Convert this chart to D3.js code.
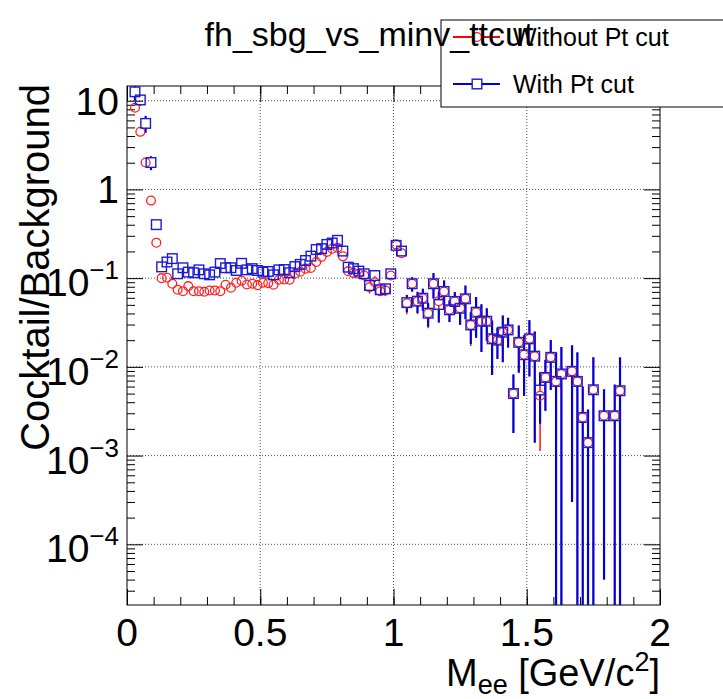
<!DOCTYPE html>
<html><head><meta charset="utf-8">
<script src="https://cdn.jsdelivr.net/npm/d3@7"></script>
<style>body{margin:0;background:#fff;} text{font-family:"Liberation Sans",Arial,sans-serif;}</style>
</head><body><svg id="c" width="723" height="699"></svg>
<script>
const mass = [0.03,0.05,0.07,0.09,0.11,0.13,0.15,0.17,0.19,0.21,0.23,0.25,0.27,0.29,0.31,0.33,0.35,0.37,0.39,0.41,0.43,0.45,0.47,0.49,0.51,0.53,0.55,0.57,0.59,0.61,0.63,0.65,0.67,0.69,0.71,0.73,0.75,0.77,0.79,0.81,0.83,0.85,0.87,0.89,0.91,0.93,0.95,0.97,0.99,1.01,1.03,1.05,1.07,1.09,1.11,1.13,1.15,1.17,1.19,1.21,1.23,1.25,1.27,1.29,1.31,1.33,1.35,1.37,1.39,1.41,1.43,1.45,1.47,1.49,1.51,1.53,1.55,1.57,1.59,1.61,1.63,1.67,1.69,1.71,1.73,1.75,1.79,1.83,1.85];
const withPt = [12.6,10.2,5.55,2.01,0.401,0.134,0.152,0.166,0.112,0.131,0.117,0.115,0.124,0.112,0.109,0.117,0.146,0.131,0.131,0.122,0.147,0.124,0.128,0.122,0.117,0.119,0.109,0.124,0.125,0.115,0.135,0.143,0.158,0.177,0.21,0.215,0.240,0.249,0.267,0.202,0.133,0.128,0.120,0.112,0.0826,0.107,0.074,0.0759,0.112,0.234,0.202,0.053,0.0865,0.055,0.0594,0.0403,0.0865,0.0505,0.0708,0.044,0.0546,0.0458,0.0585,0.0297,0.0413,0.0327,0.0327,0.0207,0.0200,0.0246,0.0261,0.0050,0.0189,0.0137,0.0207,0.0132,0.00548,0.0076,0.0128,0.00686,0.00832,0.0089,0.00686,0.00269,0.0014,0.00552,0.00281,0.00281,0.00538];
const withPtErr = [2.5,1.4,1.2,0.36,0.02,0.012,0.012,0.012,0.008,0.009,0.007,0.007,0.007,0.007,0.007,0.007,0.008,0.007,0.007,0.007,0.008,0.007,0.007,0.007,0.007,0.007,0.007,0.007,0.007,0.007,0.007,0.007,0.008,0.008,0.009,0.009,0.009,0.009,0.01,0.006,0.005,0.006,0.006,0.008,0.012,0.016,0.008,0.01,0.01,0.03,0.022,0.0117,0.016,0.0145,0.0165,0.012,0.0275,0.019,0.0234,0.012,0.015,0.016,0.024,0.0116,0.02,0.018,0.013,0.0126,0.0077,0.0133,0.0096,0.0032,0.0103,0.009,0.0129,0.0118,0.0032,0.0044,0.0073,0.0077,0.0084,0.0086,0.0077,0.0033,0.0019,0.0073,0.00277,0.0035,0.0074];
const withoutPt = [8.33,4.46,2.01,0.749,0.251,0.100,0.101,0.0865,0.074,0.0713,0.0813,0.0713,0.0713,0.0702,0.0726,0.0726,0.0713,0.0842,0.078,0.0888,0.0935,0.0849,0.0865,0.0834,0.0888,0.0879,0.0842,0.096,0.0967,0.096,0.112,0.118,0.128,0.130,0.152,0.173,0.197,0.215,0.220,0.176,0.120,0.114,0.112,0.107,0.079,0.090,0.0713,0.0726,0.107,0.240,0.191,0.052,0.0865,0.055,0.0594,0.0403,0.0865,0.055,0.0708,0.044,0.0546,0.0458,0.0585,0.0297,0.0413,0.0327,0.0327,0.0207,0.0200,0.0246,0.0261,0.0050,0.0189,0.0137,0.0207,0.0132,0.00473,0.0076,0.0128,0.00686,0.00832,0.0089,0.00686,0.00269,0.0014,0.00552,0.00281,0.00281,0.00538];
const withoutPtErr = [0.4,0.25,0.1,0.03,0.008,0.004,0.004,0.004,0.003,0.003,0.003,0.003,0.003,0.003,0.003,0.003,0.003,0.003,0.003,0.003,0.003,0.003,0.003,0.003,0.003,0.003,0.003,0.003,0.003,0.003,0.004,0.004,0.004,0.004,0.005,0.006,0.006,0.007,0.007,0.006,0.005,0.006,0.006,0.008,0.012,0.016,0.008,0.01,0.01,0.03,0.022,0.0127,0.016,0.0157,0.0165,0.013,0.0275,0.019,0.0234,0.012,0.015,0.016,0.024,0.0125,0.02,0.018,0.013,0.0126,0.0077,0.0133,0.0096,0.0032,0.0103,0.009,0.0129,0.0118,0.0036,0.0044,0.0073,0.0077,0.0084,0.0086,0.0077,0.0033,0.0019,0.0073,0.00277,0.0035,0.0074];
const xTicks = [0, 0.5, 1, 1.5, 2];
const xTickLabels = ["0", "0.5", "1", "1.5", "2"];
const yDecades = [10, 1, 0.1, 0.01, 0.001, 0.0001];
const yTickLabels = [["10",""],["1",""],["10","\u22121"],["10","\u22122"],["10","\u22123"],["10","\u22124"]];
const seriesNames = ["Without Pt cut", "With Pt cut"];

const L = 127, R = 660, T = 86, B = 605;
const svg = d3.select("#c");
const x = d3.scaleLinear().domain([0, 2]).range([L, R]);
const y = d3.scaleLog().domain([2.07e-5, 14.65]).range([B, T]);

// grid
const grid = svg.append("g").attr("stroke", "#555").attr("stroke-width", 1).attr("stroke-dasharray", "1,2");
xTicks.slice(1, -1).forEach(v => grid.append("line").attr("x1", x(v)).attr("x2", x(v)).attr("y1", T).attr("y2", B));
yDecades.forEach(v => grid.append("line").attr("x1", L).attr("x2", R).attr("y1", y(v)).attr("y2", y(v)));

// axes ticks using d3 axes
const minorX = d3.range(0, 21).map(i => i / 10);
const axB = d3.axisBottom(x).tickValues(minorX).tickSize(-8).tickFormat("");
const axBM = d3.axisBottom(x).tickValues(xTicks).tickSize(-16).tickFormat("");
const axT = d3.axisTop(x).tickValues(minorX).tickSize(-8).tickFormat("");
const axTM = d3.axisTop(x).tickValues(xTicks).tickSize(-16).tickFormat("");
const minorY = [];
[1e-5,1e-4,1e-3,1e-2,1e-1,1].forEach(d => { for (let k = 2; k <= 9; k++) { const v = d * k; if (v >= 2.07e-5 && v <= 14.65) minorY.push(v); } });
const axL = d3.axisLeft(y).tickValues(minorY).tickSize(-8).tickFormat("");
const axLM = d3.axisLeft(y).tickValues(yDecades).tickSize(-16).tickFormat("");
const axR = d3.axisRight(y).tickValues(minorY).tickSize(-8).tickFormat("");
const axRM = d3.axisRight(y).tickValues(yDecades).tickSize(-16).tickFormat("");
function put(ax, tr) { const g = svg.append("g").attr("transform", tr).call(ax); g.select(".domain").remove(); g.selectAll("line").attr("stroke", "#000"); }
put(axB, `translate(0,${B})`); put(axBM, `translate(0,${B})`);
put(axT, `translate(0,${T})`); put(axTM, `translate(0,${T})`);
put(axL, `translate(${L},0)`); put(axLM, `translate(${L},0)`);
put(axR, `translate(${R},0)`); put(axRM, `translate(${R},0)`);
svg.append("rect").attr("x", L).attr("y", T).attr("width", R - L).attr("height", B - T).attr("fill", "none").attr("stroke", "#000").attr("stroke-width", 1);

// tick labels
xTicks.forEach((v, i) => svg.append("text").attr("x", x(v)).attr("y", 646).attr("text-anchor", "middle").attr("font-size", 39).text(xTickLabels[i]));
yDecades.forEach((v, i) => {
  const [base, exp] = yTickLabels[i];
  if (!exp) {
    svg.append("text").attr("x", 119).attr("y", y(v) + 14).attr("text-anchor", "end").attr("font-size", 39).text(base);
  } else {
    const t = svg.append("text").attr("x", 119).attr("y", y(v) + 18).attr("text-anchor", "end").attr("font-size", 39);
    t.append("tspan").text(base);
    t.append("tspan").attr("font-size", 26).attr("dy", -17).text(exp);
  }
});

// axis titles
const xt = svg.append("text").attr("x", 660).attr("y", 686).attr("text-anchor", "end").attr("font-size", 38);
xt.append("tspan").text("M");
xt.append("tspan").attr("font-size", 27).attr("dy", 8).text("ee");
xt.append("tspan").attr("dy", -8).text(" [GeV/c");
xt.append("tspan").attr("font-size", 27).attr("dy", -15).text("2");
xt.append("tspan").attr("dy", 15).text("]");
svg.append("text").attr("transform", "translate(49,84) rotate(-90)").attr("text-anchor", "end").attr("font-size", 40).text("Cocktail/Background");

// data
const plot = svg.append("g");
svg.append("defs").append("clipPath").attr("id", "clip").append("rect").attr("x", L).attr("y", T).attr("width", R - L).attr("height", B - T);
plot.attr("clip-path", "url(#clip)");
const ymin = y.domain()[0];
function errBars(vals, errs, color, gap, w) {
  mass.forEach((m, i) => {
    const v = vals[i], e = errs[i];
    const cx = x(m), cy = y(v);
    const hi = y(v + e);
    const lo = (v - e) > ymin ? y(v - e) : B + 2;
    if (cy - gap > hi) plot.append("line").attr("x1", cx).attr("x2", cx).attr("y1", cy - gap).attr("y2", hi).attr("stroke", color).attr("stroke-width", w);
    if (lo > cy + gap) plot.append("line").attr("x1", cx).attr("x2", cx).attr("y1", cy + gap).attr("y2", lo).attr("stroke", color).attr("stroke-width", w);
  });
}
errBars(withoutPt, withoutPtErr, "#ff0000", 4.5, 1.4);
errBars(withPt, withPtErr, "#0000dd", 4.5, 2.2);
mass.forEach((m, i) => plot.append("circle").attr("cx", x(m)).attr("cy", y(withoutPt[i])).attr("r", 4.4).attr("fill", "none").attr("stroke", "#ff2020").attr("stroke-width", 1.3));
mass.forEach((m, i) => plot.append("rect").attr("x", x(m) - 4.8).attr("y", y(withPt[i]) - 4.8).attr("width", 9.6).attr("height", 9.6).attr("fill", "none").attr("stroke", "#1a1ad8").attr("stroke-width", 1.4));

// legend
const lg = svg.append("g");
lg.append("rect").attr("x", 441).attr("y", 20).attr("width", 300).attr("height", 87).attr("fill", "#fff").attr("stroke", "#000");
const rows = [{y: 37, c: "#ff0000", m: "circle"}, {y: 84, c: "#0000dd", m: "square"}];
rows.forEach((r, i) => {
  lg.append("line").attr("x1", 453).attr("x2", 500).attr("y1", r.y).attr("y2", r.y).attr("stroke", r.c).attr("stroke-width", 2);
  if (r.m === "circle") lg.append("circle").attr("cx", 477).attr("cy", r.y).attr("r", 4.4).attr("fill", "#fff").attr("stroke", "#ff2020").attr("stroke-width", 1.3);
  else lg.append("rect").attr("x", 472.2).attr("y", r.y - 4.8).attr("width", 9.6).attr("height", 9.6).attr("fill", "#fff").attr("stroke", "#1a1ad8").attr("stroke-width", 1.4);
  lg.append("text").attr("x", 513).attr("y", r.y + 9).attr("font-size", 25).text(seriesNames[i]);
});

// title (drawn over the legend, as in the reference)
svg.append("text").attr("x", 369).attr("y", 46).attr("text-anchor", "middle").attr("font-size", 34).text("fh_sbg_vs_minv_ttcut");
</script></body></html>
